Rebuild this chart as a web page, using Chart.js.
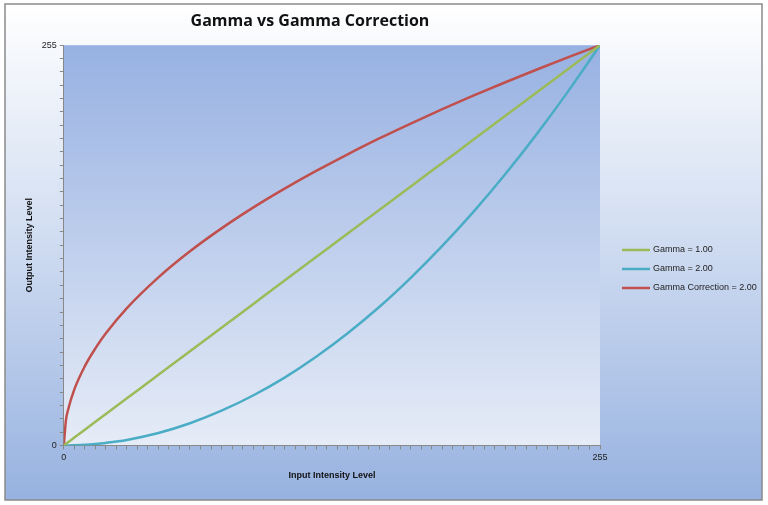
<!DOCTYPE html>
<html><head><script src="https://cdn.jsdelivr.net/npm/chart.js@4"></script>
<style>body{margin:0;background:#fff}#w{width:768px;height:505px}</style></head>
<body><div id="w"><canvas id="c"></canvas></div>
<script>
const xs = [0,1,2,5,10,15,20,30,45,60,75,90,105,120,135,150,165,180,195,210,225,240,255];
const gamma1 = [0,1,2,5,10,15,20,30,45,60,75,90,105,120,135,150,165,180,195,210,225,240,255];
const gamma2 = [0,0,0,0.1,0.4,0.9,1.6,3.5,7.9,14.1,22.1,31.8,43.2,56.5,71.5,88.2,106.8,127.1,149.1,172.9,198.5,225.9,255];
const gammaCorr = [0,16,22.6,35.7,50.5,61.8,71.4,87.5,107.1,123.7,138.3,151.5,163.6,174.9,185.5,195.6,205.1,214.2,223.0,231.4,239.5,247.4,255];
const labels = ['Gamma = 1.00','Gamma = 2.00','Gamma Correction = 2.00'];
const colors = ['#9bbb59','#4bacc6','#c0504d'];
const tickLabels = [0,255];
const series=[gamma1,gamma2,gammaCorr];
const bg={id:'bg',beforeDraw(ch){const c=ch.ctx,a=ch.chartArea;c.save();
 let g=c.createLinearGradient(0,4,0,500);g.addColorStop(0,'#ffffff');g.addColorStop(0.35,'#dde6f5');g.addColorStop(1,'#97b2e0');
 c.fillStyle=g;c.fillRect(5,4,757,496);c.strokeStyle='#8a8a8a';c.lineWidth=1.5;c.strokeRect(5,4,757,496);
 g=c.createLinearGradient(0,a.top,0,a.bottom);g.addColorStop(0,'#97b1e2');g.addColorStop(1,'#e6ecf7');
 c.fillStyle=g;c.fillRect(a.left,a.top,a.right-a.left,a.bottom-a.top);c.restore();},
 afterDraw(ch){const c=ch.ctx;c.save();c.font='9px "Liberation Sans"';c.textBaseline='middle';
 labels.forEach((l,i)=>{const y=250+i*19;c.strokeStyle=colors[i];c.lineWidth=2.5;c.beginPath();c.moveTo(622,y);c.lineTo(650,y);c.stroke();c.fillStyle='#222';c.fillText(l,653,y);});c.restore();}};
new Chart(document.getElementById('c'),{type:'line',plugins:[bg],
 data:{datasets:series.map((s,i)=>({label:labels[i],data:xs.map((x,j)=>({x,y:s[j]})),borderColor:colors[i],borderWidth:2.5,pointRadius:0,cubicInterpolationMode:'monotone'}))},
 options:{responsive:true,maintainAspectRatio:false,animation:false,
  layout:{padding:{left:20,right:168,top:8,bottom:20}},
  plugins:{legend:{display:false},tooltip:{enabled:false},title:{display:true,text:'Gamma vs Gamma Correction',color:'#111',font:{family:'Open Sans',size:16,weight:'bold'},padding:{top:4,bottom:14}}},
  scales:{
   x:{type:'linear',min:0,max:255,ticks:{stepSize:5,autoSkip:false,maxRotation:0,color:'#222',font:{size:9,family:'Liberation Sans'},callback:v=>tickLabels.includes(v)?v:''},
      grid:{drawOnChartArea:false,tickLength:4,color:'#888'},border:{color:'#888'},
      title:{display:true,text:'Input Intensity Level',color:'#111',font:{size:9,weight:'bold',family:'Liberation Sans'}}},
   y:{min:0,max:255,afterBuildTicks(ax){const t=[];for(let v=0;v<=255;v+=8.5)t.push({value:v});ax.ticks=t;},
      ticks:{autoSkip:false,color:'#222',font:{size:9,family:'Liberation Sans'},callback:v=>(v===0||v===255)?v:''},
      grid:{drawOnChartArea:false,tickLength:4,color:'#888'},border:{color:'#888'},
      title:{display:true,text:'Output Intensity Level',color:'#111',font:{size:9,weight:'bold',family:'Liberation Sans'}}}}}});
</script></body></html>
